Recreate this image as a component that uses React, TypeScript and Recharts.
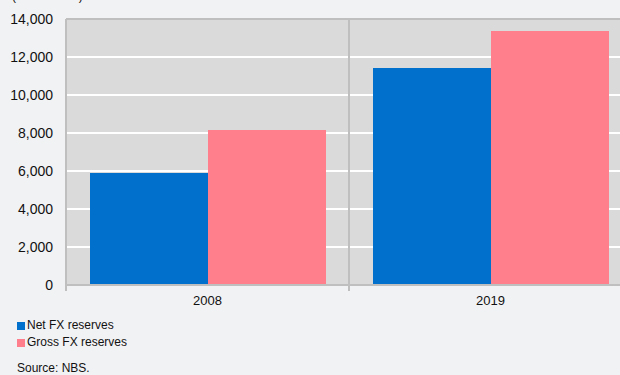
import React from 'react';
import { BarChart, Bar, XAxis, YAxis, CartesianGrid, ReferenceLine } from 'recharts';

const years = ['2008', '2019'];
const netReserves = [5890, 11420];
const grossReserves = [8160, 13370];
const yTicks = [0, 2000, 4000, 6000, 8000, 10000, 12000, 14000];

const data = years.map((year, i) => ({
    year,
    net: netReserves[i],
    gross: grossReserves[i],
}));

const FONT = '"Liberation Sans", Arial, sans-serif';
const BLUE = '#0070cc';
const PINK = '#ff808c';
const AXIS = '#bfbfbf';

const legendItems = [
    { label: 'Net FX reserves', color: BLUE },
    { label: 'Gross FX reserves', color: PINK },
];

// category label in the middle, tick mark on the left edge of the band
const YearTick = (props: any) => {
    const { x, y, payload } = props;
    const edge = x - (payload.offset || 0);
    return (
        <g>
            <line x1={edge} x2={edge} y1={y - 8} y2={y - 2} stroke={AXIS} strokeWidth={2} />
            <text x={x} y={y + 12} textAnchor="middle" fill="#111" fontSize={13} fontFamily={FONT}>
                {payload.value}
            </text>
        </g>
    );
};

const App: React.FC = () => {
    return (
        <div
            style={{
                position: 'fixed',
                left: 0,
                top: 0,
                width: 620,
                height: 375,
                overflow: 'hidden',
                background: '#f1f2f4',
                fontFamily: FONT,
            }}
        >
            <div style={{ position: 'absolute', left: 12, top: -11, fontSize: 12, color: '#111' }}>(EUR million)</div>
            <BarChart
                width={640}
                height={375}
                data={data}
                margin={{ top: 19, right: 8, left: 0, bottom: 60 }}
                barGap={0}
                barSize={118}
            >
                <CartesianGrid fill="#dadada" stroke="#ffffff" strokeWidth={2} vertical={false} />
                <XAxis
                    dataKey="year"
                    axisLine={{ stroke: AXIS, strokeWidth: 2 }}
                    tickLine={false}
                    tickSize={6}
                    tickMargin={2}
                    tick={<YearTick />}
                    height={30}
                />
                <YAxis
                    domain={[0, 14000]}
                    ticks={yTicks}
                    tickFormatter={(v: number) => v.toLocaleString('en-US')}
                    axisLine={{ stroke: AXIS, strokeWidth: 2 }}
                    tickLine={false}
                    tickSize={5}
                    tickMargin={8}
                    tick={{ fill: '#111', fontSize: 14, fontFamily: FONT }}
                    width={66}
                />
                <ReferenceLine y={14000} stroke={AXIS} strokeWidth={2} />
                <ReferenceLine x="2019" position="start" stroke={AXIS} strokeWidth={2} />
                <Bar dataKey="net" name="Net FX reserves" fill={BLUE} isAnimationActive={false} />
                <Bar dataKey="gross" name="Gross FX reserves" fill={PINK} isAnimationActive={false} />
            </BarChart>
            <div style={{ position: 'absolute', left: 17, top: 317, fontSize: 12, color: '#111', lineHeight: '17px' }}>
                {legendItems.map((it) => (
                    <div key={it.label} style={{ display: 'flex', alignItems: 'center' }}>
                        <span style={{ width: 8, height: 8, background: it.color, display: 'inline-block', marginRight: 2 }} />
                        {it.label}
                    </div>
                ))}
            </div>
            <div style={{ position: 'absolute', left: 17, top: 361, fontSize: 12, color: '#111' }}>Source: NBS.</div>
        </div>
    );
};

export default App;
